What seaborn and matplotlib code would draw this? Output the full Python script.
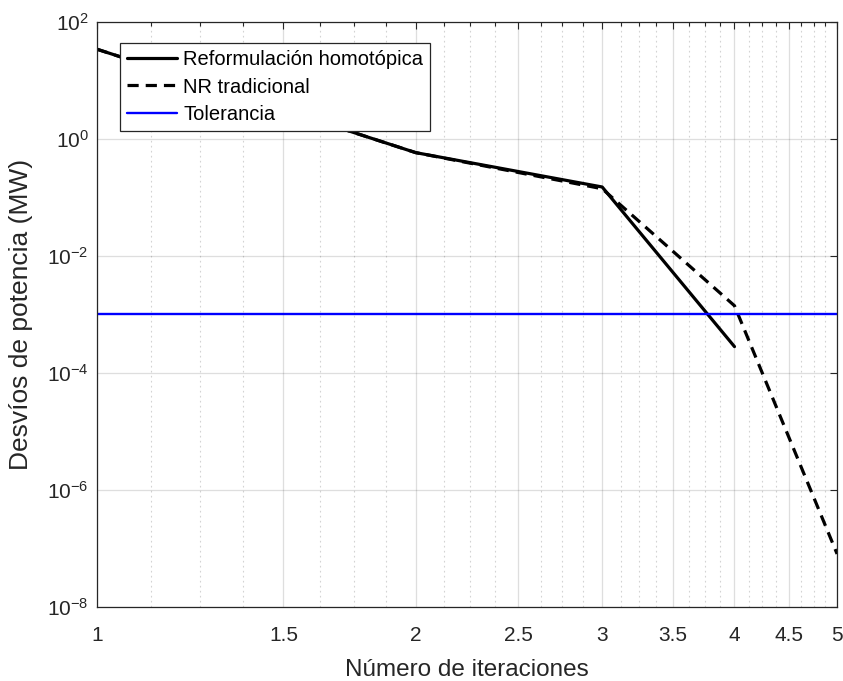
import matplotlib
matplotlib.use('Agg')
import matplotlib.pyplot as plt
import matplotlib.ticker as mticker
import seaborn as sns
import numpy as np

# data
iter_homo = [1, 2, 3, 4]
dev_homo = [34.0, 0.58, 0.15, 2.8e-4]

iter_nr = [1, 2, 3, 4, 5]
dev_nr = [34.0, 0.58, 0.14, 1.4e-3, 8.0e-8]

tol_x = [1, 5]
tol_y = [1e-3, 1e-3]

x_major = [1, 1.5, 2, 2.5, 3, 3.5, 4, 4.5, 5]
x_major_labels = ['1', '1.5', '2', '2.5', '3', '3.5', '4', '4.5', '5']
y_major = [1e-8, 1e-6, 1e-4, 1e-2, 1e0, 1e2]

sns.set_theme(style='white')
plt.rcParams['font.family'] = ['Liberation Sans', 'DejaVu Sans']
plt.rcParams['mathtext.default'] = 'regular'

fig = plt.figure(figsize=(8.43, 6.81), dpi=100)
ax = fig.add_axes([0.115, 0.109, 0.878, 0.859])

sns.lineplot(x=iter_homo, y=dev_homo, ax=ax, color='black', linewidth=2.3,
             label='Reformulación homotópica')
sns.lineplot(x=iter_nr, y=dev_nr, ax=ax, color='black', linewidth=2.3,
             linestyle=(0, (3.5, 2.2)), label='NR tradicional')
sns.lineplot(x=tol_x, y=tol_y, ax=ax, color='#0000ff', linewidth=1.7,
             label='Tolerancia')

ax.set_xscale('log')
ax.set_yscale('log')
ax.set_xlim(1, 5)
ax.set_ylim(1e-8, 1e2)

ax.xaxis.set_major_locator(mticker.FixedLocator(x_major))
ax.xaxis.set_major_formatter(mticker.FixedFormatter(x_major_labels))
ax.xaxis.set_minor_locator(mticker.FixedLocator(np.arange(1, 5.001, 0.125)))
ax.xaxis.set_minor_formatter(mticker.NullFormatter())
ax.yaxis.set_major_locator(mticker.FixedLocator(y_major))
ax.yaxis.set_major_formatter(
    mticker.FuncFormatter(lambda v, p: r'$10^{%d}$' % int(round(np.log10(v)))))
ax.yaxis.set_minor_locator(mticker.NullLocator())

ax.grid(True, which='major', color='#262626', alpha=0.15, linewidth=0.9)
ax.grid(True, which='minor', axis='x', color='#262626', alpha=0.2,
        linewidth=0.8, linestyle=(0, (1.5, 3)))

ax.tick_params(which='both', direction='in', top=True, right=True,
               colors='#262626', labelcolor='#262626')
ax.tick_params(which='major', length=5, width=0.8, labelsize=15)
ax.tick_params(which='minor', length=3, width=0.8)
ax.tick_params(axis='x', pad=14)
ax.tick_params(axis='y', pad=6)
for s in ax.spines.values():
    s.set_color('#262626')
    s.set_linewidth(0.9)

ax.set_xlabel('Número de iteraciones', fontsize=17.5, color='#262626',
              labelpad=10)
ax.set_ylabel('Desvíos de potencia (MW)', fontsize=19, color='#262626',
              labelpad=10)

leg = ax.legend(loc='upper left', bbox_to_anchor=(0.031, 0.963), fontsize=14.5,
                frameon=True, fancybox=False, framealpha=1, edgecolor='#262626',
                handlelength=2.5, handletextpad=0.3, labelspacing=0.4,
                borderpad=0.35, borderaxespad=0)
leg.get_frame().set_linewidth(0.9)
for t in leg.get_texts():
    t.set_color('black')

fig.savefig('out.png', dpi=100)
